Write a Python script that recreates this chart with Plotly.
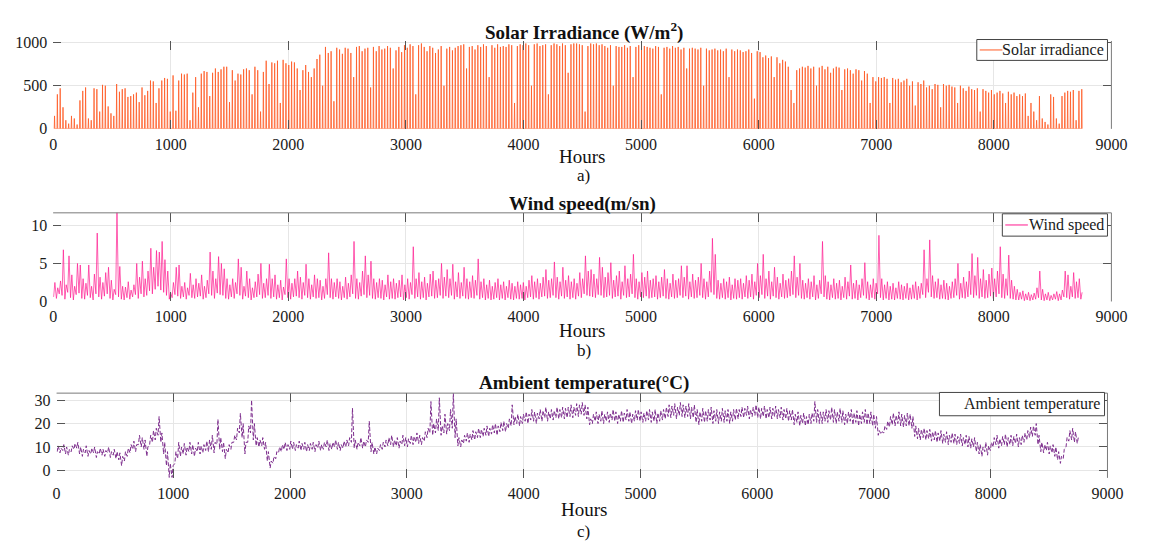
import plotly.graph_objects as go

W, H = 1150, 550

# ---- data: one entry per day of the year (365) ----
# daily peak solar irradiance (W/m^2), one row per month
solar_peak = [
    150, 400, 470, 250, 100, 60, 150, 120, 50, 330, 440, 480, 120, 100, 470, 460, 200, 510, 500, 260, 180, 150, 520, 430, 460, 470, 370, 380, 400, 420, 310,
    480, 390, 440, 560, 550, 300, 470, 560, 590, 580, 200, 620, 210, 560, 640, 630, 640, 100, 420, 600, 250, 640, 670, 660, 380, 650, 700, 660,
    690, 720, 720, 310, 680, 560, 640, 630, 690, 700, 680, 400, 720, 680, 200, 660, 790, 520, 770, 760, 790, 300, 800, 760, 740, 780, 770, 700, 450, 680, 740,
    660, 600, 700, 810, 860, 500, 950, 880, 900, 320, 940, 920, 870, 940, 930, 880, 600, 950, 960, 900, 930, 940, 480, 950, 900, 960, 920, 930, 960, 940,
    700, 910, 950, 890, 970, 940, 980, 960, 400, 970, 990, 950, 900, 960, 940, 880, 920, 960, 500, 930, 950, 910, 940, 960, 970, 980, 700, 950, 960, 920, 970,
    950, 980, 960, 600, 970, 940, 980, 950, 960, 950, 980, 970, 300, 960, 980, 970, 990, 970, 500, 980, 990, 960, 970, 980, 400, 970, 990, 980, 960, 990,
    970, 650, 980, 990, 990, 980, 970, 200, 960, 990, 980, 990, 970, 980, 960, 940, 970, 500, 960, 950, 950, 970, 940, 960, 600, 950, 970, 940, 960, 950, 940,
    930, 960, 950, 400, 940, 950, 930, 960, 940, 950, 920, 940, 700, 930, 940, 930, 920, 940, 500, 930, 910, 920, 930, 910, 920, 900, 930, 600, 920, 900, 920,
    910, 890, 900, 920, 880, 350, 900, 890, 830, 850, 820, 840, 600, 830, 760, 800, 780, 720, 450, 300, 680, 700, 720, 710, 730, 700, 720, 500, 710, 730,
    690, 720, 650, 700, 720, 710, 450, 690, 700, 680, 640, 690, 680, 560, 670, 640, 300, 600, 550, 600, 590, 600, 580, 300, 590, 570, 580, 540, 560, 580, 500,
    550, 270, 540, 520, 560, 480, 500, 460, 520, 510, 250, 520, 500, 510, 490, 480, 300, 500, 470, 440, 490, 460, 450, 470, 200, 460, 440, 420, 450, 400,
    420, 440, 410, 300, 430, 400, 420, 380, 400, 380, 410, 150, 300, 200, 100, 380, 120, 80, 50, 400, 370, 120, 60, 380, 420, 440, 430, 450, 100, 440, 460,
]

# daily maximum wind speed (m/s)
wind_high = [
    2.5, 1.8, 2.7, 6.8, 2.2, 6.0, 3.5, 2.0, 5.0, 4.8, 3.0, 2.4, 4.8, 2.0, 3.6, 9.0, 3.2, 2.5, 3.8, 4.5, 2.8, 1.6, 11.8, 4.6, 2.0, 1.9, 2.6, 1.5, 2.2, 5.0, 3.2,
    5.3, 3.0, 4.0, 7.0, 4.5, 6.7, 6.5, 7.9, 5.5, 4.0, 1.2, 2.5, 4.5, 4.8, 2.0, 2.5, 1.8, 3.7, 2.2, 3.0, 2.4, 3.5, 2.0, 2.8, 6.5, 4.0, 3.0, 5.9,
    5.0, 4.3, 3.0, 2.2, 3.0, 2.5, 5.6, 4.5, 2.0, 4.0, 3.0, 1.8, 2.6, 3.6, 5.0, 2.4, 3.0, 4.9, 3.0, 3.5, 2.2, 2.8, 1.9, 5.6, 3.0, 2.4, 3.0, 4.0, 3.2, 2.5, 4.9,
    3.0, 2.2, 3.5, 3.0, 2.8, 2.0, 3.0, 6.4, 3.0, 2.5, 3.0, 2.6, 2.0, 3.2, 2.4, 3.5, 7.9, 3.0, 2.5, 4.0, 6.0, 3.5, 5.3, 3.0, 2.5, 3.0, 2.8, 2.2, 3.5, 2.6,
    3.0, 2.4, 2.8, 3.5, 2.2, 3.0, 2.5, 7.2, 3.0, 3.8, 2.6, 3.2, 2.4, 3.6, 4.0, 2.8, 3.0, 5.0, 3.2, 4.2, 3.0, 4.9, 2.6, 3.8, 2.5, 4.5, 3.0, 2.6, 3.4, 2.8, 5.6,
    2.6, 3.0, 2.2, 2.8, 2.0, 2.5, 3.0, 2.2, 2.6, 2.0, 2.8, 2.4, 2.0, 2.6, 2.2, 2.5, 2.0, 2.8, 3.4, 2.6, 3.0, 2.4, 3.2, 4.2, 2.8, 3.0, 5.2, 3.2, 2.6, 4.5,
    2.8, 3.4, 2.6, 3.0, 2.4, 3.8, 3.0, 6.0, 4.0, 4.2, 3.6, 3.0, 5.8, 4.5, 3.2, 3.8, 5.1, 2.8, 3.4, 4.0, 2.6, 4.7, 3.0, 3.6, 6.2, 3.0, 2.6, 3.8, 3.2, 4.0, 2.8,
    3.0, 3.4, 2.6, 3.2, 4.2, 3.0, 2.4, 3.6, 2.8, 3.0, 4.7, 3.2, 4.7, 2.6, 3.6, 2.8, 3.2, 5.0, 3.0, 2.6, 4.0, 8.3, 6.2, 2.8, 2.4, 3.0, 2.6, 3.2, 2.2, 3.0, 2.8,
    3.0, 2.4, 3.4, 2.8, 3.6, 2.6, 5.0, 3.4, 6.2, 3.0, 4.0, 2.6, 4.5, 3.2, 2.4, 3.6, 2.8, 3.0, 4.0, 6.0, 3.2, 5.0, 2.8, 2.4, 3.0, 2.6, 3.4, 2.2, 2.8, 7.9,
    3.4, 2.6, 2.2, 3.0, 2.4, 2.8, 2.0, 3.2, 2.6, 4.8, 2.4, 2.8, 2.2, 3.0, 5.1, 2.6, 2.2, 3.0, 2.4, 8.7, 3.0, 2.2, 2.6, 2.0, 2.4, 1.8, 2.6, 2.2, 2.0, 2.4, 1.8,
    2.2, 2.6, 2.0, 2.4, 6.8, 3.0, 8.1, 3.4, 2.6, 3.0, 2.2, 2.8, 2.4, 2.0, 2.6, 3.0, 5.0, 2.4, 3.2, 2.6, 4.0, 6.3, 3.4, 5.8, 3.0, 4.2, 2.8, 3.6, 4.4, 3.0,
    4.0, 7.2, 3.6, 3.0, 6.1, 2.8, 2.0, 1.6, 1.2, 1.4, 1.0, 1.2, 0.9, 1.1, 1.8, 4.0, 1.6, 1.0, 1.2, 0.8, 1.0, 1.3, 1.0, 1.5, 4.0, 3.5, 2.0, 3.8, 2.6, 3.0, 1.2,
]

# daily minimum wind speed (m/s)
wind_low = [
    0.6, 0.4, 1.0, 0.8, 0.3, 1.2, 0.5, 0.2, 0.9, 1.1, 0.4, 0.3, 0.8, 0.5, 0.2, 1.0, 0.6, 0.3, 0.7, 1.0, 0.4, 0.2, 0.9, 0.6, 0.3, 0.2, 0.5, 0.3, 0.6, 0.9, 0.4,
    1.0, 0.6, 0.8, 1.4, 1.0, 1.6, 2.0, 1.5, 1.2, 0.8, 0.3, 0.5, 0.9, 0.7, 0.4, 0.6, 0.3, 0.8, 0.5, 0.4, 0.6, 0.7, 0.3, 0.5, 1.0, 0.8, 0.4, 1.1,
    0.9, 0.8, 0.4, 0.3, 0.6, 0.4, 1.0, 0.8, 0.3, 0.7, 0.5, 0.2, 0.5, 0.6, 0.9, 0.4, 0.5, 0.8, 0.4, 0.6, 0.3, 0.5, 0.2, 0.9, 0.5, 0.3, 0.6, 0.7, 0.5, 0.3, 0.8,
    0.5, 0.3, 0.6, 0.4, 0.5, 0.2, 0.4, 0.9, 0.5, 0.3, 0.6, 0.4, 0.2, 0.5, 0.3, 0.6, 1.0, 0.4, 0.3, 0.7, 0.9, 0.5, 0.8, 0.4, 0.3, 0.5, 0.4, 0.2, 0.6, 0.3,
    0.4, 0.3, 0.5, 0.6, 0.2, 0.5, 0.3, 0.9, 0.4, 0.6, 0.3, 0.5, 0.2, 0.6, 0.7, 0.4, 0.5, 0.8, 0.4, 0.7, 0.5, 0.8, 0.3, 0.6, 0.4, 0.7, 0.4, 0.3, 0.5, 0.4, 0.8,
    0.3, 0.5, 0.2, 0.4, 0.2, 0.3, 0.5, 0.2, 0.4, 0.2, 0.5, 0.3, 0.2, 0.4, 0.3, 0.4, 0.2, 0.5, 0.6, 0.3, 0.5, 0.3, 0.6, 0.7, 0.4, 0.5, 0.8, 0.5, 0.3, 0.7,
    0.4, 0.6, 0.3, 0.5, 0.3, 0.7, 0.5, 1.0, 0.8, 0.7, 0.6, 0.5, 0.9, 0.8, 0.5, 0.6, 0.8, 0.4, 0.6, 0.7, 0.3, 0.8, 0.5, 0.6, 1.0, 0.5, 0.3, 0.6, 0.5, 0.7, 0.4,
    0.5, 0.6, 0.3, 0.5, 0.7, 0.4, 0.3, 0.6, 0.4, 0.5, 0.8, 0.5, 0.7, 0.3, 0.6, 0.4, 0.5, 0.8, 0.5, 0.3, 0.6, 1.2, 0.9, 0.4, 0.3, 0.5, 0.3, 0.5, 0.2, 0.4, 0.3,
    0.5, 0.3, 0.6, 0.4, 0.6, 0.3, 0.8, 0.5, 0.9, 0.4, 0.7, 0.3, 0.7, 0.5, 0.3, 0.6, 0.4, 0.5, 0.7, 0.9, 0.5, 0.8, 0.4, 0.3, 0.5, 0.3, 0.6, 0.2, 0.4, 1.0,
    0.6, 0.3, 0.2, 0.5, 0.3, 0.4, 0.2, 0.5, 0.3, 0.7, 0.3, 0.4, 0.2, 0.5, 0.8, 0.4, 0.2, 0.5, 0.3, 1.0, 0.5, 0.2, 0.4, 0.2, 0.3, 0.2, 0.4, 0.3, 0.2, 0.4, 0.2,
    0.3, 0.4, 0.2, 0.4, 0.9, 0.5, 1.2, 0.6, 0.4, 0.5, 0.3, 0.4, 0.3, 0.2, 0.4, 0.5, 0.8, 0.3, 0.5, 0.4, 0.6, 0.9, 0.5, 0.8, 0.4, 0.6, 0.4, 0.5, 0.7, 0.4,
    0.6, 1.0, 0.5, 0.4, 0.8, 0.4, 0.3, 0.2, 0.2, 0.3, 0.1, 0.2, 0.1, 0.2, 0.3, 0.5, 0.2, 0.1, 0.2, 0.1, 0.2, 0.3, 0.1, 0.2, 0.6, 0.5, 0.3, 0.6, 0.4, 0.5, 0.3,
]

# daily maximum ambient temperature (degC)
temp_max = [
    10.5, 9.5, 11.0, 10.0, 9.0, 10.5, 11.5, 12.0, 10.0, 9.0, 10.5, 8.5, 9.5, 10.0, 8.0, 9.5, 9.0, 8.5, 10.0, 8.0, 9.0, 8.0, 7.5, 6.0, 8.0, 9.5, 11.0, 12.5, 11.0, 15.0, 14.0,
    13.0, 10.0, 15.0, 17.0, 18.0, 23.0, 16.0, 12.0, 8.0, 3.0, 2.0, 8.0, 12.0, 10.0, 11.5, 10.0, 12.0, 11.0, 9.5, 12.0, 10.5, 11.0, 12.5, 13.0, 15.0, 12.0, 21.8, 14.0,
    12.0, 9.0, 11.0, 12.0, 15.0, 18.0, 24.4, 20.0, 12.0, 19.0, 30.0, 20.0, 14.0, 13.0, 14.0, 12.0, 8.0, 4.0, 6.0, 8.0, 10.0, 11.0, 12.0, 11.0, 12.5, 12.0, 11.0, 12.5, 11.5, 12.0, 11.0,
    11.5, 12.0, 11.0, 12.5, 11.0, 12.0, 13.0, 11.5, 12.0, 13.0, 12.0, 11.0, 12.5, 13.0, 14.0, 26.6, 13.0, 12.0, 14.0, 12.5, 13.0, 21.0, 12.0, 10.0, 9.5, 11.0, 12.0, 13.0, 14.0, 15.0,
    13.0, 14.0, 12.5, 15.0, 14.0, 13.5, 15.0, 14.5, 16.0, 15.0, 14.0, 16.5, 18.0, 29.4, 20.0, 22.0, 31.0, 19.0, 24.0, 20.0, 26.0, 33.0, 22.0, 14.0, 13.0, 15.0, 16.0, 15.5, 17.0, 16.5, 18.0,
    17.5, 18.0, 19.0, 18.0, 19.5, 20.0, 19.0, 20.5, 21.0, 20.0, 22.0, 28.0, 23.0, 24.0, 23.0, 24.0, 25.0, 24.0, 26.0, 25.0, 24.5, 26.0, 25.5, 27.0, 25.0, 26.0, 25.5, 27.0, 26.0, 27.0,
    26.5, 27.0, 28.0, 27.0, 28.5, 28.0, 29.0, 28.0, 27.0, 22.0, 24.0, 25.0, 24.0, 25.5, 24.0, 25.0, 24.5, 26.0, 25.0, 24.0, 25.5, 24.5, 26.0, 25.0, 24.0, 25.5, 26.0, 25.0, 24.5, 25.5, 26.0,
    25.0, 26.0, 24.5, 25.5, 26.0, 27.0, 28.0, 27.5, 28.5, 27.0, 29.0, 28.0, 27.5, 28.5, 27.0, 28.0, 26.0, 25.0, 26.5, 25.5, 26.0, 27.0, 25.5, 26.0, 25.0, 26.5, 25.5, 26.0, 25.0, 26.0, 26.5,
    26.0, 27.0, 26.5, 27.5, 26.0, 27.0, 28.0, 27.0, 26.5, 27.5, 26.0, 27.0, 26.5, 27.5, 26.0, 27.0, 26.0, 26.5, 25.5, 26.0, 24.0, 25.0, 23.5, 24.5, 23.0, 24.0, 24.5, 29.4, 26.0, 25.0,
    25.0, 26.0, 25.5, 27.0, 26.0, 25.0, 26.5, 25.5, 24.0, 25.0, 26.0, 24.5, 25.5, 24.0, 25.0, 26.0, 24.5, 25.0, 24.0, 23.0, 17.0, 16.5, 19.0, 21.0, 23.0, 24.5, 23.5, 25.0, 24.0, 23.5, 24.5,
    24.0, 23.0, 19.0, 18.0, 17.5, 18.0, 17.0, 17.5, 16.5, 17.0, 16.0, 17.0, 15.5, 16.5, 15.0, 16.0, 15.5, 14.5, 15.5, 14.0, 15.0, 14.5, 13.5, 14.0, 12.0, 11.0, 10.0, 12.0, 10.5, 12.0,
    14.0, 15.0, 13.5, 14.5, 15.5, 14.0, 15.0, 14.5, 15.5, 14.0, 15.0, 16.0, 17.0, 18.5, 19.0, 20.0, 15.0, 12.0, 11.0, 12.0, 10.5, 11.0, 10.0, 8.0, 6.0, 9.0, 14.0, 17.0, 18.0, 16.5, 14.0,
]

# daily minimum ambient temperature (degC)
temp_min = [
    8.0, 7.5, 8.5, 7.0, 6.5, 8.0, 9.0, 9.5, 7.0, 6.0, 7.5, 6.0, 7.0, 7.5, 5.5, 7.0, 6.5, 6.0, 7.5, 5.5, 6.5, 5.0, 4.5, 2.0, 4.0, 6.0, 7.5, 9.0, 8.0, 11.0, 10.0,
    9.0, 6.0, 11.0, 12.0, 13.0, 15.0, 12.0, 7.0, 2.0, -3.0, -3.0, 3.0, 5.0, 6.0, 7.0, 6.5, 8.0, 7.0, 6.0, 8.0, 7.0, 7.5, 8.5, 8.0, 9.0, 7.5, 11.0, 9.0,
    8.0, 5.0, 7.5, 9.0, 12.0, 13.0, 16.0, 14.0, 7.0, 12.0, 16.0, 13.0, 10.5, 10.0, 10.5, 9.0, 4.0, 1.0, 3.0, 5.0, 7.5, 8.0, 9.0, 8.5, 9.0, 9.0, 8.5, 9.5, 8.5, 9.0, 8.0,
    8.5, 9.0, 8.0, 9.5, 8.5, 9.0, 10.0, 8.5, 9.0, 10.0, 9.0, 8.5, 9.5, 10.0, 10.5, 12.0, 9.5, 9.0, 10.5, 9.5, 10.0, 12.0, 8.0, 7.0, 7.0, 8.5, 9.0, 10.0, 10.5, 11.0,
    10.0, 10.5, 9.5, 11.0, 10.5, 10.0, 11.5, 11.0, 12.0, 11.5, 11.0, 12.5, 14.0, 16.0, 15.0, 16.0, 17.0, 15.0, 16.0, 15.5, 17.0, 18.0, 14.0, 10.5, 10.0, 11.5, 12.5, 12.0, 13.0, 13.0, 14.0,
    14.0, 14.5, 15.0, 14.5, 15.5, 16.0, 15.0, 16.5, 17.0, 16.5, 18.0, 19.0, 19.5, 20.0, 19.0, 20.0, 21.0, 20.0, 21.5, 21.0, 20.0, 22.0, 21.0, 22.5, 21.0, 22.0, 21.5, 22.5, 22.0, 22.5,
    22.0, 22.5, 23.0, 22.5, 23.5, 23.0, 24.0, 23.5, 22.0, 19.5, 20.0, 21.0, 20.0, 21.0, 20.0, 21.0, 20.5, 21.5, 21.0, 20.0, 21.0, 20.5, 21.5, 21.0, 20.0, 21.0, 21.5, 21.0, 20.5, 21.0, 21.5,
    20.5, 21.0, 20.0, 21.0, 21.5, 22.0, 23.0, 22.5, 23.5, 22.0, 23.5, 23.0, 22.5, 23.0, 22.0, 22.5, 20.5, 19.5, 21.0, 20.5, 21.0, 21.5, 20.0, 21.0, 20.0, 21.0, 20.5, 21.0, 20.0, 21.0, 21.5,
    22.0, 23.0, 22.5, 23.5, 22.0, 23.0, 23.5, 22.5, 22.0, 23.0, 22.0, 22.5, 22.0, 23.0, 22.0, 22.5, 21.5, 22.0, 21.0, 21.5, 19.5, 20.5, 19.0, 20.0, 19.0, 19.5, 20.0, 21.0, 20.5, 20.0,
    20.0, 21.0, 20.5, 21.5, 20.5, 20.0, 21.0, 20.5, 19.5, 20.0, 21.0, 19.5, 20.5, 19.0, 20.0, 20.5, 19.5, 20.0, 19.0, 18.0, 15.0, 15.5, 16.0, 17.5, 18.5, 19.5, 19.0, 20.0, 19.0, 18.5, 19.0,
    19.0, 18.0, 14.5, 13.5, 13.0, 14.0, 13.0, 13.5, 12.5, 13.0, 12.0, 12.5, 11.5, 12.0, 11.0, 12.0, 11.5, 11.0, 11.5, 10.5, 11.0, 10.0, 9.5, 10.0, 8.0, 7.0, 6.0, 8.0, 6.5, 8.5,
    10.0, 11.0, 9.5, 10.5, 11.0, 10.0, 11.0, 10.5, 11.5, 10.0, 11.0, 12.0, 13.0, 14.0, 14.5, 15.0, 11.0, 8.0, 7.5, 8.5, 7.0, 7.5, 6.0, 4.5, 3.0, 5.0, 10.0, 12.5, 13.0, 12.0, 11.5,
]

x_ticks = [0, 1000, 2000, 3000, 4000, 5000, 6000, 7000, 8000, 9000]

# ---- hourly traces built from the daily values ----
sol_h, sol_v = [], []
for d, p in enumerate(solar_peak):
    sol_h += [24 * d + 9, 24 * d + 12, 24 * d + 15]
    sol_v += [0, p, 0]

wind_h, wind_v = [], []
for d, (lo, hi) in enumerate(zip(wind_low, wind_high)):
    wind_h += [24 * d + 4, 24 * d + 15]
    wind_v += [lo, hi]

temp_h, temp_v = [], []
for d, (lo, hi) in enumerate(zip(temp_min, temp_max)):
    temp_h += [24 * d + 5, 24 * d + 14]
    temp_v += [lo, hi]

C_SOLAR = "#ff5a24"
C_WIND = "#ff1a8f"
C_TEMP = "#7e2f8e"
FONT = "Liberation Serif"
TICK_C = "#555555"
GRID_C = "#e6e6e6"


def px(x):
    return x / W


def py(y):
    return 1 - y / H


# panel pixel boxes: (left, right, top, bottom)
boxes = {
    "a": (50, 1127, 35, 125.5),
    "b": (50, 1127, 212, 303.3),
    "c": (53.5, 1123, 397.7, 485),
}

fig = go.Figure()
fig.add_trace(go.Scatter(x=sol_h, y=sol_v, mode="lines", line=dict(color=C_SOLAR, width=0.8),
                         xaxis="x", yaxis="y", showlegend=False, name="Solar irradiance"))
fig.add_trace(go.Scatter(x=wind_h, y=wind_v, mode="lines", line=dict(color=C_WIND, width=0.7),
                         xaxis="x2", yaxis="y2", showlegend=False, name="Wind speed"))
fig.add_trace(go.Scatter(x=temp_h, y=temp_v, mode="lines", line=dict(color=C_TEMP, width=1, dash="4px,2px"),
                         xaxis="x3", yaxis="y3", showlegend=False, name="Ambient temperature"))


def xax(box, anchor):
    l, r, t, b = box
    return dict(domain=[px(l), px(r)], range=[0, 9000], anchor=anchor,
                tickvals=x_ticks, ticktext=[str(v) for v in x_ticks],
                ticks="inside", ticklen=9, tickcolor=TICK_C, tickwidth=1, mirror="ticks",
                showline=False, showgrid=True, gridcolor=GRID_C, gridwidth=1, zeroline=False,
                tickfont=dict(family=FONT, size=16, color="#1a1a1a"), ticklabelstandoff=4)


def yax(box, anchor, rng, vals):
    l, r, t, b = box
    return dict(domain=[py(b), py(t)], range=rng, anchor=anchor,
                tickvals=vals, ticktext=[str(v) for v in vals],
                ticks="inside", ticklen=8, tickcolor=TICK_C, tickwidth=1, mirror="ticks",
                showline=False, showgrid=True, gridcolor=GRID_C, gridwidth=1, zeroline=False,
                tickfont=dict(family=FONT, size=16, color="#1a1a1a"), ticklabelstandoff=5)


fig.update_layout(
    width=W, height=H, margin=dict(l=0, r=0, t=0, b=0),
    paper_bgcolor="white", plot_bgcolor="white", showlegend=False,
    xaxis=xax(boxes["a"], "y"),
    yaxis=yax(boxes["a"], "x", [0, 1019], [0, 500, 1000]),
    xaxis2=xax(boxes["b"], "y2"),
    yaxis2=yax(boxes["b"], "x2", [0, 11.66], [0, 5, 10]),
    xaxis3=xax(boxes["c"], "y3"),
    yaxis3=yax(boxes["c"], "x3", [-3.2, 33.0], [0, 10, 20, 30]),
)

shapes = []
BORDER = "#7a7a7a"
# right frame edges of all panels, top edges of panels b and c
for key in ("a", "b", "c"):
    l, r, t, b = boxes[key]
    shapes.append(dict(type="line", xref="paper", yref="paper", x0=px(r), x1=px(r), y0=py(b), y1=py(t),
                       line=dict(color=BORDER, width=1)))
for key in ("b", "c"):
    l, r, t, b = boxes[key]
    shapes.append(dict(type="line", xref="paper", yref="paper", x0=px(l), x1=px(r), y0=py(t), y1=py(t),
                       line=dict(color=BORDER, width=1)))

# legend boxes
LEG = "#444444"
legends = [
    # (box l, r, t, b, sample x0, x1, text, text right, colour)
    (990, 1123, 33.5, 55, 993, 1016, "Solar irradiance", 1121, C_SOLAR),
    (1016, 1123, 213, 236, 1019, 1042, "Wind speed", 1121, C_WIND),
    (952, 1120, 397, 421, None, None, "Ambient temperature", 1117, C_TEMP),
]
annotations = []
for l, r, t, b, s0, s1, txt, tr, col in legends:
    shapes.append(dict(type="rect", xref="paper", yref="paper", x0=px(l), x1=px(r), y0=py(b), y1=py(t),
                       line=dict(color=LEG, width=1), fillcolor="white"))
    ym = (t + b) / 2
    if s0 is not None:
        shapes.append(dict(type="line", xref="paper", yref="paper", x0=px(s0), x1=px(s1), y0=py(ym), y1=py(ym),
                           line=dict(color=col, width=1)))
    annotations.append(dict(text=txt, xref="paper", yref="paper", x=px(tr), y=py(ym), xanchor="right",
                            yanchor="middle", showarrow=False,
                            font=dict(family=FONT, size=16, color="#1a1a1a")))

# titles, axis names and panel letters
texts = [
    ("<b>Solar Irradiance (W/m<sup>2</sup>)</b>", 590, 25, 19),
    ("Hours", 588, 154, 19),
    ("a)", 590, 174, 17),
    ("<b>Wind speed(m/sn)</b>", 589, 203, 19),
    ("Hours", 588, 333, 19),
    ("b)", 590, 354, 17),
    ("<b>Ambient temperature(°C)</b>", 590, 387, 19),
    ("Hours", 590, 518, 19),
    ("c)", 590, 540, 17),
]
for txt, x, y, size in texts:
    annotations.append(dict(text=txt, xref="paper", yref="paper", x=px(x), y=py(y), xanchor="center",
                            yanchor="middle", showarrow=False,
                            font=dict(family=FONT, size=size, color="#111111")))

fig.update_layout(shapes=shapes, annotations=annotations)
fig.write_html("out.html")
